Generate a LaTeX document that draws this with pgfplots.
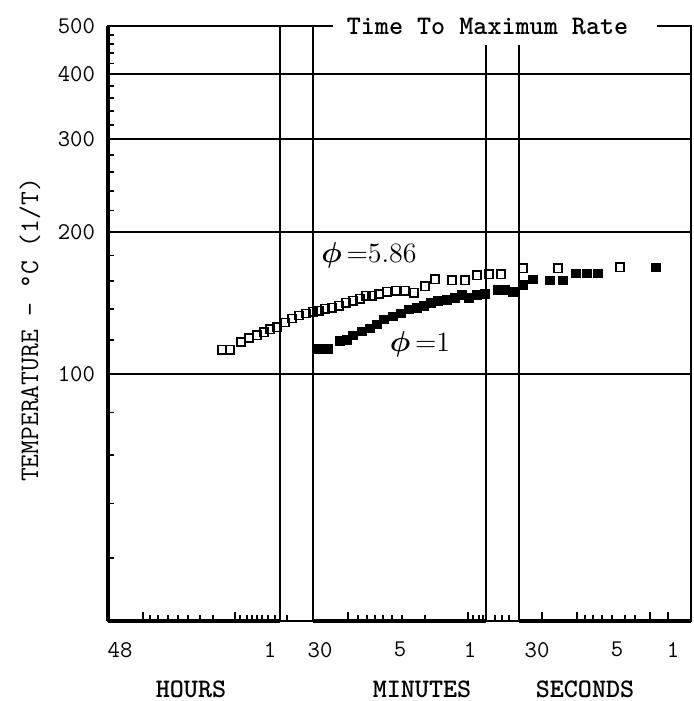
\documentclass[border=0pt]{standalone}
\usepackage{pgfplots}
\pgfplotsset{compat=1.18}
\usepackage{bm}
\begin{document}
\begin{tikzpicture}
\begin{axis}[
  at={(0pt,0pt)}, anchor=south west,
  scale only axis, width=291.5pt, height=297.5pt,
  xmin=108, xmax=691, ymin=0, ymax=500,
  y coord trafo/.code={\pgfmathparse{-1000/(#1+273.15)}},
  y coord inv trafo/.code={\pgfmathparse{-1000/#1-273.15}},
  axis line style={line width=0.8pt},
  tick pos=left,
  ytick={100,200,300,400,500}, yticklabels={100,200,300,400,500},
  minor ytick={20,40,60,80,120,140,160,180,220,240,260,280,320,340,360,380,420,440,460,480},
  ymajorgrids, grid style={black, line width=1pt},
  major tick length=0pt, minor tick length=3pt,
  minor tick style={line width=0.9pt, black},
  xtick={120,270,320,400,470,537,617,673}, xticklabels={48,1,30,5,1,30,5,1},
  ticklabel style={font=\ttfamily\fontsize{12}{14}\selectfont},
  xticklabel style={yshift=-7pt},
  yticklabel style={xshift=-3pt},
  clip=false,
]
\addplot[only marks, mark=square, mark size=2.1pt, mark options={line width=0.75pt, black}] table {
x T
222 114.1
230 114.1
241 118.9
249 121.3
257 123.1
264 125.0
270 126.8
277 128.1
285 131.2
292 133.8
299 135.8
306 137.1
313 138.4
319 139.1
325 140.4
332 141.0
339 142.4
346 144.4
353 145.8
360 147.2
366 149.3
372 149.3
379 150.6
387 152.1
396 152.8
405 152.8
414 151.4
425 156.3
435 161.5
452 160.7
465 160.7
477 164.4
489 165.2
501 165.2
523 169.7
558 169.7
620 170.5
};
\addplot[only marks, mark=square*, mark size=2.1pt, black] table {
x T
318 114.7
328 114.7
340 119.5
347 120.1
353 123.1
362 125.6
370 127.4
377 130.0
384 133.2
393 135.1
401 137.1
409 139.7
417 141.0
424 142.4
431 144.4
438 145.8
447 146.5
455 147.9
462 150.0
469 147.9
477 150.0
485 150.6
498 153.5
505 153.5
513 152.1
523 157.1
533 161.5
550 160.7
563 160.7
576 165.9
587 165.9
598 165.9
656 170.5
};
\draw[line width=0.9pt] (axis cs:280,0) -- (axis cs:280,500);
\draw[line width=0.9pt] (axis cs:313,0) -- (axis cs:313,500);
\draw[line width=0.9pt] (axis cs:486,0) -- (axis cs:486,457);
\draw[line width=0.9pt] (axis cs:519,0) -- (axis cs:519,457);
\draw[line width=1.8pt] (axis cs:108,0) -- (axis cs:280,0);
\draw[line width=1.8pt] (axis cs:313,0) -- (axis cs:486,0);
\draw[line width=1.8pt] (axis cs:519,0) -- (axis cs:691,0);
\draw[line width=1.6pt] (axis cs:108,0) -- (axis cs:108,500);
\fill[white] ([yshift=-3pt]axis cs:333,500) rectangle ([yshift=3pt]axis cs:657,500);
\node[font=\ttfamily\bfseries\fontsize{13.4}{15}\selectfont] at (axis cs:487.5,500) {Time To Maximum Rate};
\node[font=\fontsize{14}{16}\selectfont] at (axis cs:369,180) {$\bm{\phi}$\,=5.86};
\node[font=\fontsize{14}{16}\selectfont] at (axis cs:420,117.7) {$\bm{\phi}$\,=1};
\end{axis}
\begin{axis}[
  at={(0pt,0pt)}, anchor=south west,
  scale only axis, width=291.5pt, height=297.5pt,
  xmin=108, xmax=691, ymin=0, ymax=1,
  hide y axis, axis x line*=bottom, x axis line style={draw=none},
  xtick={143,235,348,468,542,577,650,668}, xticklabels={{},{},{},{},{},{},{},{}},
  minor xtick={150,158,168,178,188,200,213,240,247,252,257,262,268,275,287,358,367,375,383,392,402,425,473,479,483,495,502,509,585,593,602,612,625,635},
  major tick length=4.5pt, minor tick length=2.8pt,
  tick style={line width=0.8pt, black}, tick align=inside,
]
\end{axis}
\node[font=\ttfamily\bfseries\fontsize{13.4}{15}\selectfont] at (41.5pt,-34pt) {HOURS};
\node[font=\ttfamily\bfseries\fontsize{13.4}{15}\selectfont] at (157pt,-34pt) {MINUTES};
\node[font=\ttfamily\bfseries\fontsize{13.4}{15}\selectfont] at (238.5pt,-34pt) {SECONDS};
\node[rotate=90, font=\ttfamily\fontsize{13.4}{15}\selectfont] at (-39pt,145.5pt) {TEMPERATURE - \textdegree C (1/T)};
\pgfresetboundingbox
\path[use as bounding box] (-54pt,-40pt) rectangle (293pt,310.5pt);
\end{tikzpicture}
\end{document}
